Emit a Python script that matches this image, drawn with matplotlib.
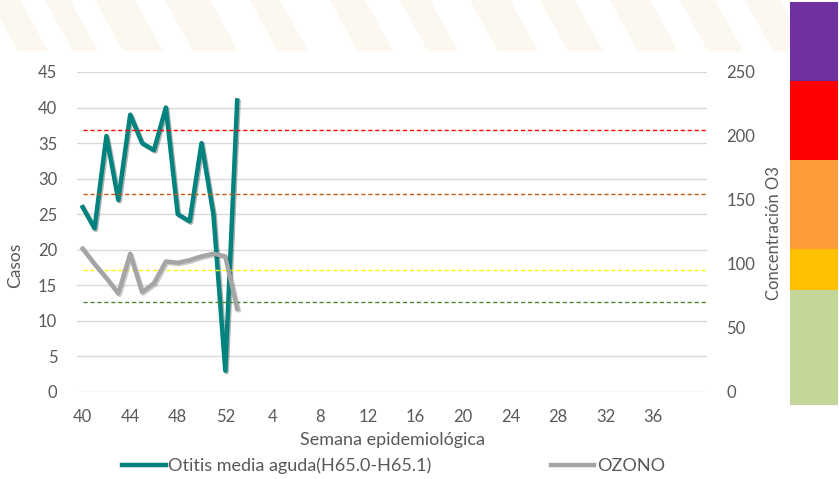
import numpy as np
import matplotlib.pyplot as plt
import matplotlib.patheffects as pe
from matplotlib.patches import Polygon
from matplotlib.lines import Line2D

plt.rcParams['font.family'] = ['Lato', 'DejaVu Sans']

# datos
semanas = [40, 41, 42, 43, 44, 45, 46, 47, 48, 49, 50, 51, 52, 53]
otitis = [26, 23, 36, 27, 39, 35, 34, 40, 25, 24, 35, 25, 3, 41]
ozono = [112, 100, 89, 77, 108, 78, 85, 102, 101, 103, 106, 108, 106, 65]
etiquetas_x = ['40', '44', '48', '52', '4', '8', '12', '16', '20', '24', '28', '32', '36']
n_categorias = 53

# limites de calidad del aire (ozono)
limites = [70, 95, 155, 205]
colores_limites = ['#548235', '#FFFF00', '#C55A11', '#FF0000']
# escala de colores de la derecha (como aparece dibujada)
bandas = [0, 73, 99, 155, 205, 255]
colores_bandas = ['#C4D79B', '#FFC000', '#FF9B3B', '#FF0000', '#7030A0']

gris = '#595959'
W, H = 839, 479

fig = plt.figure(figsize=(W / 100, H / 100), dpi=100)

# fondo con marca de agua
bg = fig.add_axes([0, 0, 1, 1], zorder=0)
bg.set_xlim(0, W)
bg.set_ylim(H, 0)
bg.axis('off')
for x0, w in [(-10, 30), (45, 25), (95, 40), (165, 45), (250, 30), (330, 35),
              (400, 30), (470, 40), (540, 35), (610, 40), (680, 35), (745, 35)]:
    bg.add_patch(Polygon([(x0, 0), (x0 + w, 0), (x0 + w + 28, 51), (x0 + 28, 51)],
                         closed=True, color='#FCF8F0', lw=0))

# barra de colores de la derecha
axb = fig.add_axes([790 / W, (H - 405) / H, 48 / W, 403 / H], zorder=1)
axb.bar(0, np.diff(bandas), bottom=bandas[:-1], width=1, color=colores_bandas)
axb.set_xlim(-0.5, 0.5)
axb.set_ylim(0, bandas[-1])
axb.axis('off')

ax = fig.add_axes([76.7 / W, (H - 392) / H, 630 / W, 320 / H], zorder=2)
ax.set_facecolor('none')
x = np.array(semanas) - semanas[0]
ax.plot(x, otitis, color='#00827F', lw=3.2, solid_joinstyle='round',
        path_effects=[pe.SimpleLineShadow(offset=(1, -1), alpha=0.3), pe.Normal()])
ax.set_xlim(-0.5, n_categorias - 0.5)
ax.set_ylim(0, 45)
ax.set_yticks(range(0, 46, 5))
ax.set_xticks(range(0, 49, 4))
ax.set_xticklabels(etiquetas_x)
ax.yaxis.grid(True, color='#D9D9D9', lw=1)
ax.set_axisbelow(True)
ax.tick_params(axis='y', length=0, pad=14, labelsize=12, labelcolor=gris)
ax.tick_params(axis='x', length=0, pad=12, labelsize=12, labelcolor=gris)
for s in ax.spines.values():
    s.set_visible(False)

ax2 = ax.twinx()
ax2.set_ylim(0, 250)
ax2.set_yticks(range(0, 251, 50))
for lim, c in zip(limites, colores_limites):
    ax2.hlines(lim, 0, n_categorias - 0.5, colors=c, linestyles=(0, (3, 2)), lw=1)
ax2.plot(x, ozono, color='#A5A5A5', lw=3.2, solid_joinstyle='round',
         path_effects=[pe.SimpleLineShadow(offset=(1, -1), alpha=0.2), pe.Normal()])
ax2.tick_params(axis='y', length=0, pad=14, labelsize=12, labelcolor=gris)
for s in ax2.spines.values():
    s.set_visible(False)

fig.text(15 / W, 1 - 265 / H, 'Casos', rotation=90, ha='center', va='center',
         fontsize=12.5, color=gris)
fig.text(774 / W, 1 - 233 / H, 'Concentración O3', rotation=90, ha='center',
         va='center', fontsize=12, color=gris)
fig.text(392 / W, 1 - 440 / H, 'Semana epidemiológica', ha='center', va='center',
         fontsize=13, color=gris)

handles = [Line2D([], [], color='#00827F', lw=3.2), Line2D([], [], color='#A5A5A5', lw=3.2)]
fig.legend(handles, ['Otitis media aguda(H65.0-H65.1)', 'OZONO'], loc='center left',
           bbox_to_anchor=(106 / W, 1 - 466 / H), ncol=2, frameon=False,
           fontsize=13, labelcolor=gris, handlelength=2.4, handletextpad=0.15,
           columnspacing=6.6)

fig.savefig('out.png', dpi=100)
